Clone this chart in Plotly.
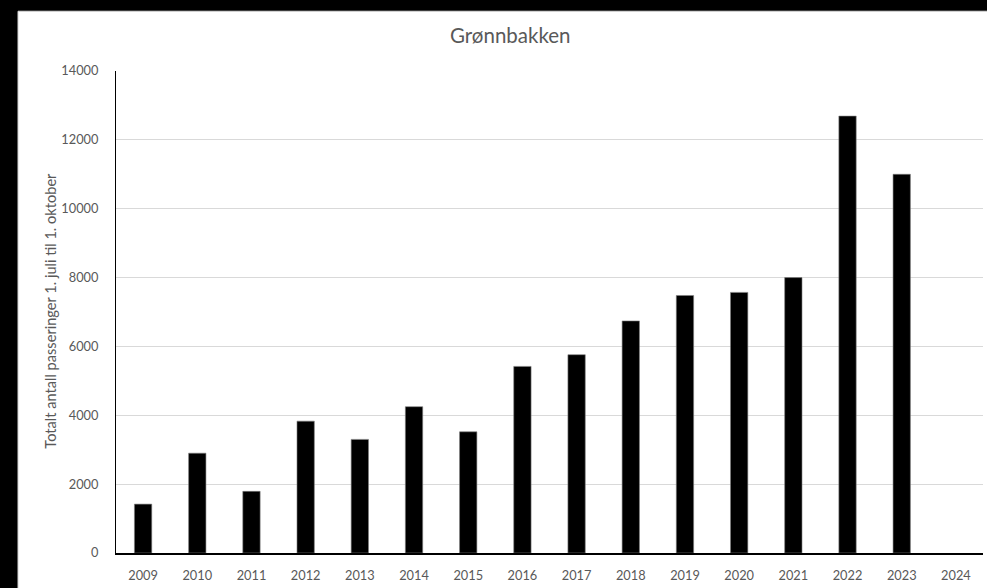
import plotly.graph_objects as go

years = ["2009", "2010", "2011", "2012", "2013", "2014", "2015", "2016",
         "2017", "2018", "2019", "2020", "2021", "2022", "2023", "2024"]
passeringer = [1420, 2900, 1790, 3830, 3300, 4250, 3520, 5420,
               5760, 6740, 7480, 7570, 8000, 12690, 11000, None]

title_text = "Grønnbakken"
y_title = "Totalt antall passeringer 1. juli til 1. oktober"

grey = "#595959"
font_family = "Lato, 'Open Sans', sans-serif"

fig = go.Figure()
fig.add_trace(
    go.Bar(
        x=years,
        y=passeringer,
        marker=dict(color="black", line=dict(color="#7f7f7f", width=0.6)),
        showlegend=False,
    )
)

# black frame on top and left of the white chart area
fig.add_shape(
    type="rect", xref="paper", yref="paper",
    x0=-0.2, x1=1.05, y0=1.124, y1=1.2,
    fillcolor="black", line=dict(width=0), layer="below",
)
fig.add_shape(
    type="rect", xref="paper", yref="paper",
    x0=-0.2, x1=-0.113, y0=-0.2, y1=1.2,
    fillcolor="black", line=dict(width=0), layer="below",
)
# light border of the chart area
fig.add_shape(
    type="line", xref="paper", yref="paper",
    x0=-0.113, x1=1.05, y0=1.124, y1=1.124,
    line=dict(color="#d9d9d9", width=1), layer="below",
)
fig.add_shape(
    type="line", xref="paper", yref="paper",
    x0=-0.113, x1=-0.113, y0=-0.2, y1=1.124,
    line=dict(color="#d9d9d9", width=1), layer="below",
)

fig.add_annotation(
    text=y_title, xref="paper", yref="paper",
    x=-0.076, y=0.503, textangle=-90, showarrow=False,
    xanchor="center", yanchor="middle",
    font=dict(size=14.6, color=grey, family=font_family),
)

fig.update_layout(
    width=987,
    height=588,
    paper_bgcolor="white",
    plot_bgcolor="white",
    margin=dict(l=116, r=4, t=71, b=35),
    bargap=0.68,
    title=dict(
        text=title_text, x=0.517, y=0.939, xanchor="center", yanchor="middle",
        font=dict(size=20.5, color=grey, family=font_family),
    ),
    xaxis=dict(
        type="category",
        range=[-0.5, 15.5],
        showgrid=False,
        showline=True,
        linecolor="black",
        linewidth=1.5,
        ticks="",
        ticklabelstandoff=10,
        tickfont=dict(size=12.8, color=grey, family=font_family),
    ),
    yaxis=dict(
        range=[0, 14000],
        tickvals=list(range(0, 14001, 2000)),
        tickformat="d",
        showgrid=True,
        gridcolor="#d9d9d9",
        gridwidth=1,
        zeroline=False,
        showline=True,
        linecolor="black",
        linewidth=1,
        ticks="",
        ticklabelstandoff=14,
        tickfont=dict(size=12.8, color=grey, family=font_family),
    ),
)

fig.write_html(
    "out.html",
    config={"displayModeBar": False},
    post_script="document.body.style.margin='0';",
)
